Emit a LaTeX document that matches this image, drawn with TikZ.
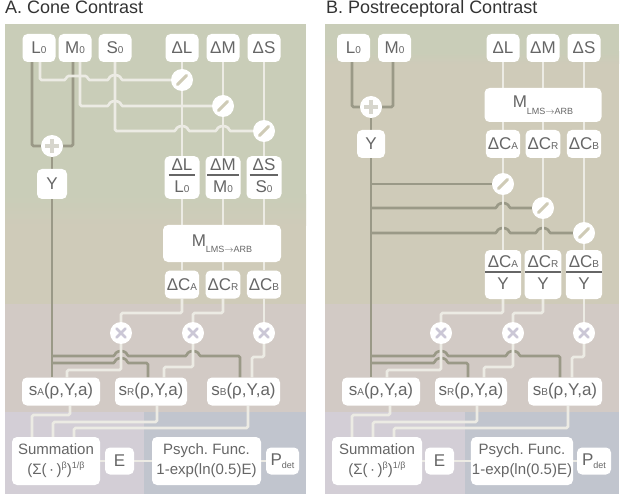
\documentclass[tikz,border=0pt]{standalone}
\usepackage{fontspec}
\setmainfont{Liberation Sans}
\usepackage{xcolor}
\usetikzlibrary{calc}
\usetikzlibrary{backgrounds}

\definecolor{bandgreen}{HTML}{C9CDB8}
\definecolor{bandbeige}{HTML}{CFCBB9}
\definecolor{bandpink}{HTML}{D2CAC5}
\definecolor{bandlav}{HTML}{D3CED6}
\definecolor{bandblue}{HTML}{C1C5CE}
\definecolor{wirelite}{HTML}{ECEBE4}
\definecolor{wiredark}{HTML}{9A9987}
\definecolor{txtgrey}{HTML}{666666}
\definecolor{titlegrey}{HTML}{333333}
\definecolor{slashc}{HTML}{CFCBB6}
\definecolor{plusc}{HTML}{D7D6CD}
\definecolor{timesc}{HTML}{CBC7D6}

\pgfdeclarelayer{bands}
\pgfdeclarelayer{wires}
\pgfsetlayers{bands,wires,main}

\frenchspacing
\newcommand{\boxfont}{\fontsize{17}{20}\selectfont}
\newcommand{\midfont}{\fontsize{15}{20}\selectfont}
\newcommand{\titlefont}{\fontsize{18}{20}\selectfont}
\newcommand{\sbs}[1]{{\fontsize{10}{10}\selectfont #1}}
\newcommand{\sps}[1]{\raisebox{6pt}{\fontsize{9}{9}\selectfont #1}}
\newcommand{\lms}{\raisebox{-6.5pt}{\fontsize{9}{9}\selectfont LMS$\rightarrow$ARB}}
\newcommand{\dets}{\raisebox{-3pt}{\fontsize{9}{9}\selectfont det}}
\newcommand{\frc}[2]{\begin{tabular}{@{\hspace{3pt}}c@{\hspace{3pt}}}#1\\[-2pt]\hline\rule{0pt}{17pt}#2\end{tabular}}
\setlength{\arrayrulewidth}{1.6pt}
\newcommand{\hop}[2]{-- ({#1-6},#2) arc[start angle=180,end angle=360,x radius=6,y radius=5]}

\begin{document}
\begin{tikzpicture}[x=1pt, y=-1pt,
    wbox/.style={fill=white, rounded corners=5pt, text=txtgrey, font=\boxfont, inner sep=2pt, minimum height=28pt, minimum width=33pt},
    fbox/.style={wbox, inner sep=0pt, minimum width=35pt},
    mbox/.style={wbox, font=\midfont, align=center, inner sep=1pt, minimum height=48pt},
    opc/.style={circle, fill=white, inner sep=0pt, minimum size=22pt},
    divop/.style={opc, path picture={\draw[slashc, line width=3pt, line cap=round] ([shift={(-4.5,4.5)}]path picture bounding box.center) -- ([shift={(4.5,-4.5)}]path picture bounding box.center);}},
    plusop/.style={opc, path picture={\draw[plusc, line width=3.5pt] ([shift={(-7,0)}]path picture bounding box.center) -- ([shift={(7,0)}]path picture bounding box.center) ([shift={(0,-7)}]path picture bounding box.center) -- ([shift={(0,7)}]path picture bounding box.center);}},
    timesop/.style={opc, path picture={\draw[timesc, line width=2.8pt, line cap=round] ([shift={(-4.5,-4.5)}]path picture bounding box.center) -- ([shift={(4.5,4.5)}]path picture bounding box.center) ([shift={(-4.5,4.5)}]path picture bounding box.center) -- ([shift={(4.5,-4.5)}]path picture bounding box.center);}},
    litew/.style={draw=wirelite, line width=2.6pt, rounded corners=1.5pt},
    darkw/.style={draw=wiredark, line width=2.6pt, rounded corners=1.5pt}]
  \useasboundingbox (0,0) rectangle (621,497);

  % titles
  \node[anchor=base west, inner sep=0pt, font=\titlefont, text=titlegrey] (titA) at (5,14) {A. Cone Contrast};
  \node[anchor=base west, inner sep=0pt, font=\titlefont, text=titlegrey] (titB) at (326,14) {B. Postreceptoral Contrast};

  % panel A
  \begin{pgfonlayer}{bands}
    \fill[bandgreen] (5,24) rectangle (306,195);
    \shade[top color=bandgreen, bottom color=bandbeige] (5,195) rectangle (306,226);
    \fill[bandbeige] (5,226) rectangle (306,304);
    \fill[bandpink] (5,304) rectangle (306,412);
    \fill[bandlav] (5,412) rectangle (144,494);
    \fill[bandblue] (144,412) rectangle (306,494);
  \end{pgfonlayer}

  \node[wbox] (aL0) at (39,48) {L\sbs{0}};
  \node[wbox] (aM0) at (75,48) {M\sbs{0}};
  \node[wbox] (aS0) at (115,48) {S\sbs{0}};
  \node[wbox] (adL) at (182,48) {ΔL};
  \node[wbox] (adM) at (223,48) {ΔM};
  \node[wbox] (adS) at (264,48) {ΔS};
  \node[divop] (aqL) at (182,80) {};
  \node[divop] (aqM) at (223,106) {};
  \node[divop] (aqS) at (264,131) {};
  \node[plusop] (aplus) at (52,146) {};
  \node[wbox, minimum width=30pt, minimum height=30pt] (aY) at (52,184) {Y};
  \node[fbox, minimum height=41pt] (afL) at (182,177.5) {\frc{ΔL}{L\sbs{0}}};
  \node[fbox, minimum height=41pt] (afM) at (223,177.5) {\frc{ΔM}{M\sbs{0}}};
  \node[fbox, minimum height=41pt] (afS) at (264,177.5) {\frc{ΔS}{S\sbs{0}}};
  \node[wbox, minimum width=118pt, minimum height=37pt] (aMx) at (222,243.5) {M\lms};
  \node[wbox] (acA) at (182,284.5) {ΔC\sbs{A}};
  \node[wbox] (acR) at (223,284.5) {ΔC\sbs{R}};
  \node[wbox] (acB) at (264,284.5) {ΔC\sbs{B}};
  \node[timesop] (atA) at (121,333) {};
  \node[timesop] (atR) at (193,333) {};
  \node[timesop] (atB) at (264,333) {};
  \node[wbox, minimum width=78pt] (asA) at (61,391.5) {s\sbs{A}(ρ,Y,a)};
  \node[wbox, minimum width=72pt] (asR) at (151,391.5) {s\sbs{R}(ρ,Y,a)};
  \node[wbox, minimum width=73pt] (asB) at (243.5,391.5) {s\sbs{B}(ρ,Y,a)};
  \node[mbox, minimum width=88pt] (aSum) at (56,461) {Summation\\(Σ(\,·\,)\sps{β})\sps{1/β}};
  \node[wbox, minimum width=29pt, minimum height=27pt] (aE) at (119.5,461) {E};
  \node[mbox, minimum width=109pt] (aPsy) at (206.5,461) {Psych. Func.\\1-exp(ln(0.5)E)};
  \node[wbox, minimum width=33pt, minimum height=27pt] (aPdet) at (282.5,461) {P\dets};

  \begin{pgfonlayer}{wires}
    \draw[darkw] ([xshift=-7pt]aL0.south) |- (aplus);
    \draw[darkw] ([xshift=-2pt]aM0.south) |- (aplus);
    \draw[darkw] (aplus) -- (aY);
    \draw[darkw] (aY) -- (asA.north -| aY);
    \draw[darkw] (52,356) \hop{121}{356} \hop{193}{356} -- (240,356) -- (asB.north -| 240,0);
    \draw[darkw] (52,363) \hop{121}{363} -- (148,363) -- (asR.north -| 148,0);
    \draw[litew] ([xshift=1pt]aL0.south) -- (40,80) -- (66,80) arc[start angle=180,end angle=270,radius=4] -- (84,76) arc[start angle=270,end angle=360,radius=4] \hop{115}{80} -- (aqL);
    \draw[litew] ([xshift=5pt]aM0.south) -- (80,106) \hop{115}{106} -- (aqM);
    \draw[litew] (aS0.south) -- (115,131) \hop{182}{131} \hop{223}{131} -- (aqS);
    \draw[litew] (adL) -- (aqL) -- (afL);
    \draw[litew] (adM) -- (aqM) -- (afM);
    \draw[litew] (adS) -- (aqS) -- (afS);
    \draw[litew] (afL) -- (aMx.north -| afL);
    \draw[litew] (afM) -- (aMx.north -| afM);
    \draw[litew] (afS) -- (aMx.north -| afS);
    \draw[litew] (aMx.south -| acA) -- (acA);
    \draw[litew] (aMx.south -| acR) -- (acR);
    \draw[litew] (aMx.south -| acB) -- (acB);
    \draw[litew] (acA) |- (121,313) -- (atA);
    \draw[litew] (acR) |- (193,313) -- (atR);
    \draw[litew] (acB) -- (atB);
    \draw[litew] (atA) |- (67,370) -- (asA.north -| 67,0);
    \draw[litew] (atR) |- (164,367) -- (asR.north -| 164,0);
    \draw[litew] (atB) |- (252,357) -- (asB.north -| 252,0);
    \draw[litew] (asA.south -| 70,0) |- (32,415) -- (aSum.north -| 32,0);
    \draw[litew] (asR.south -| 157,0) |- (53,422) -- (aSum.north -| 53,0);
    \draw[litew] (asB.south -| 248,0) |- (74,428) -- (aSum.north -| 74,0);
    \draw[litew] (aSum) -- (aE) -- (aPsy) -- (aPdet);
  \end{pgfonlayer}

  % panel B
  \begin{pgfonlayer}{bands}
    \fill[bandgreen] (325,24) rectangle (619,52);
    \shade[top color=bandgreen, bottom color=bandbeige] (325,52) rectangle (619,64);
    \fill[bandbeige] (325,64) rectangle (619,304);
    \fill[bandpink] (325,304) rectangle (619,412);
    \fill[bandlav] (325,412) rectangle (465,494);
    \fill[bandblue] (465,412) rectangle (619,494);
  \end{pgfonlayer}

  \node[wbox] (bL0) at (353.5,48) {L\sbs{0}};
  \node[wbox] (bM0) at (394.5,48) {M\sbs{0}};
  \node[wbox] (bdL) at (503,48) {ΔL};
  \node[wbox] (bdM) at (543,48) {ΔM};
  \node[wbox] (bdS) at (584,48) {ΔS};
  \node[plusop] (bplus) at (371,107) {};
  \node[wbox, minimum width=28pt] (bY) at (371,144) {Y};
  \node[wbox, minimum width=117pt, minimum height=34pt] (bMx) at (543,105) {M\lms};
  \node[wbox] (bcA) at (503,144) {ΔC\sbs{A}};
  \node[wbox] (bcR) at (543,144) {ΔC\sbs{R}};
  \node[wbox] (bcB) at (584,144) {ΔC\sbs{B}};
  \node[divop] (bqA) at (503,184) {};
  \node[divop] (bqR) at (543,208) {};
  \node[divop] (bqB) at (584,233) {};
  \node[fbox, minimum height=49pt] (bfA) at (503,274.5) {\frc{ΔC\sbs{A}}{Y}};
  \node[fbox, minimum height=49pt] (bfR) at (543,274.5) {\frc{ΔC\sbs{R}}{Y}};
  \node[fbox, minimum height=49pt] (bfB) at (584,274.5) {\frc{ΔC\sbs{B}}{Y}};
  \node[timesop] (btA) at (441,333) {};
  \node[timesop] (btR) at (513,333) {};
  \node[timesop] (btB) at (584,333) {};
  \node[wbox, minimum width=78pt] (bsA) at (381,391.5) {s\sbs{A}(ρ,Y,a)};
  \node[wbox, minimum width=72pt] (bsR) at (471,391.5) {s\sbs{R}(ρ,Y,a)};
  \node[wbox, minimum width=74pt] (bsB) at (565,391.5) {s\sbs{B}(ρ,Y,a)};
  \node[mbox, minimum width=90pt] (bSum) at (377,461) {Summation\\(Σ(\,·\,)\sps{β})\sps{1/β}};
  \node[wbox, minimum width=29pt, minimum height=27pt] (bE) at (439.5,461) {E};
  \node[mbox, minimum width=100pt] (bPsy) at (522,461) {Psych. Func.\\1-exp(ln(0.5)E)};
  \node[wbox, minimum width=34pt, minimum height=27pt] (bPdet) at (594,461) {P\dets};

  \begin{pgfonlayer}{wires}
    \draw[darkw] ([xshift=-1.5pt]bL0.south) |- (bplus);
    \draw[darkw] ([xshift=-1.5pt]bM0.south) |- (bplus);
    \draw[darkw] (bplus) -- (bY);
    \draw[darkw] (bY) -- (bsA.north -| bY);
    \draw[darkw] (371,184) -- (bqA);
    \draw[darkw] (371,208) \hop{503}{208} -- (bqR);
    \draw[darkw] (371,233) \hop{503}{233} \hop{543}{233} -- (bqB);
    \draw[darkw] (371,356) \hop{441}{356} \hop{513}{356} -- (560,356) -- (bsB.north -| 560,0);
    \draw[darkw] (371,363) \hop{441}{363} -- (468,363) -- (bsR.north -| 468,0);
    \draw[litew] (bdL) -- (bMx.north -| bdL);
    \draw[litew] (bdM) -- (bMx.north -| bdM);
    \draw[litew] (bdS) -- (bMx.north -| bdS);
    \draw[litew] (bMx.south -| bcA) -- (bcA);
    \draw[litew] (bMx.south -| bcR) -- (bcR);
    \draw[litew] (bMx.south -| bcB) -- (bcB);
    \draw[litew] (bcA) -- (bqA) -- (bfA);
    \draw[litew] (bcR) -- (bqR) -- (bfR);
    \draw[litew] (bcB) -- (bqB) -- (bfB);
    \draw[litew] (bfA) |- (441,313) -- (btA);
    \draw[litew] (bfR) |- (513,313) -- (btR);
    \draw[litew] (bfB) -- (btB);
    \draw[litew] (btA) |- (387,370) -- (bsA.north -| 387,0);
    \draw[litew] (btR) |- (484,367) -- (bsR.north -| 484,0);
    \draw[litew] (btB) |- (572,357) -- (bsB.north -| 572,0);
    \draw[litew] (bsA.south -| 390,0) |- (352,415) -- (bSum.north -| 352,0);
    \draw[litew] (bsR.south -| 477,0) |- (373,422) -- (bSum.north -| 373,0);
    \draw[litew] (bsB.south -| 568,0) |- (394,428) -- (bSum.north -| 394,0);
    \draw[litew] (bSum) -- (bE) -- (bPsy) -- (bPdet);
  \end{pgfonlayer}
\end{tikzpicture}
\end{document}
